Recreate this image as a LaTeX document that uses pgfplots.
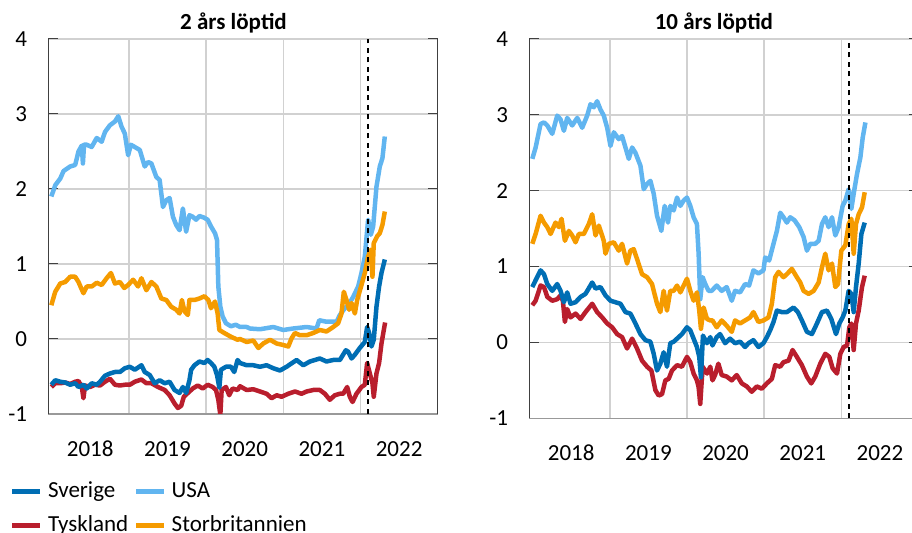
\documentclass[border=0pt]{standalone}
\usepackage{fontspec}
\setmainfont{Carlito}
\usepackage{pgfplots}
\pgfplotsset{compat=1.18}

\definecolor{cSE}{RGB}{0,110,180}
\definecolor{cUS}{RGB}{97,181,240}
\definecolor{cDE}{RGB}{185,30,45}
\definecolor{cUK}{RGB}{245,155,0}

\pgfplotsset{
  ser/.style={line width=4.5bp, line join=round},
  panel/.style={
    scale only axis,
    xmin=2017.957, xmax=2023, ymin=-1, ymax=4,
    axis x line*=bottom, axis y line*=box,
    ytick={-1,0,1,2,3,4}, yticklabels={-1,0,1,2,3,4},
    xtick={2018.5,2019.5,2020.5,2021.5,2022.5},
    xticklabels={2018,2019,2020,2021,2022},
    minor xtick={2019,2020,2021,2022,2023},
    xminorgrids, ymajorgrids,
    grid style={draw=black!18, line width=1.4bp},
    minor grid style={draw=black!18, line width=1.4bp},
    major grid style={draw=black!18, line width=1.4bp},
    tick align=inside,
    major tick length=10bp, minor tick length=0pt,
    xtick style={draw=none},
    ytick style={draw=black!75, line width=1bp},
    y axis line style={draw=black!75, line width=1.2bp},
    x axis line style={draw=black!40, line width=1.2bp},
    yticklabel style={inner sep=0pt, anchor=east, xshift=-21bp},
    xticklabel style={inner sep=0pt, anchor=base, yshift=-42bp},
  },
}

\begin{document}
\fontsize{23bp}{27bp}\selectfont
\begin{tikzpicture}
\path[use as bounding box] (0,0) rectangle (912bp,533bp);

% ---------------- left panel: 2 years ----------------
\begin{axis}[panel,
  at={(48.3bp,119bp)}, anchor=south west,
  width=389.4bp, height=375bp,
  title={2 års löptid},
  every axis title/.style={at={(0.5,1)}, anchor=base, yshift=9.7bp, xshift=-9.5bp, inner sep=0pt, font=\bfseries},
  legend columns=2,
  legend cell align=left,
  legend style={at={(-0.098,-0.179)}, anchor=north west, draw=none, fill=none,
    inner sep=0pt, outer sep=0pt,
    nodes={inner sep=0pt, text height=16bp, text depth=5bp},
    row sep=13bp,
    /tikz/every odd column/.style={column sep=5.4bp},
    /tikz/every even column/.style={column sep=5.5bp}},
  legend image code/.code={\draw[#1, line width=4.5bp] (0bp,0bp) -- (28bp,0bp);},
]
\addlegendimage{cSE}\addlegendentry{Sverige}
\addlegendimage{cUS}\addlegendentry{USA}
\addlegendimage{cDE}\addlegendentry{Tyskland}
\addlegendimage{cUK}\addlegendentry{Storbritannien}

% USA
\addplot[cUS, ser, forget plot] coordinates {
(2017.996,1.90) (2018.047,2.05) (2018.112,2.14) (2018.155,2.24) (2018.240,2.30) (2018.305,2.32) (2018.348,2.50) (2018.391,2.58) (2018.405,2.34) (2018.420,2.59) (2018.455,2.59) (2018.519,2.56) (2018.584,2.68) (2018.648,2.63) (2018.691,2.76) (2018.755,2.85) (2018.820,2.90) (2018.863,2.97) (2018.906,2.83) (2018.948,2.74) (2018.991,2.45) (2019.026,2.59) (2019.077,2.56) (2019.142,2.52) (2019.206,2.30) (2019.249,2.36) (2019.292,2.34) (2019.356,2.16) (2019.399,2.12) (2019.442,1.76) (2019.485,1.85) (2019.528,1.88) (2019.571,1.63) (2019.614,1.52) (2019.657,1.45) (2019.700,1.74) (2019.742,1.43) (2019.785,1.65) (2019.828,1.63) (2019.871,1.59) (2019.914,1.64) (2019.970,1.62) (2020.021,1.59) (2020.064,1.50) (2020.116,1.41) (2020.142,1.32) (2020.159,0.70) (2020.185,0.43) (2020.215,0.30) (2020.258,0.21) (2020.322,0.17) (2020.386,0.19) (2020.440,0.16) (2020.526,0.16) (2020.569,0.14) (2020.698,0.13) (2020.871,0.16) (2021.000,0.12) (2021.129,0.14) (2021.302,0.16) (2021.431,0.14) (2021.466,0.25) (2021.560,0.23) (2021.690,0.23) (2021.733,0.32) (2021.797,0.41) (2021.841,0.45) (2021.905,0.56) (2021.970,0.70) (2022.013,0.88) (2022.056,1.10) (2022.099,1.59) (2022.134,1.39) (2022.164,1.50) (2022.207,2.03) (2022.250,2.30) (2022.284,2.41) (2022.315,2.70)
};
% Tyskland
\addplot[cDE, ser, forget plot] coordinates {
(2017.996,-0.64) (2018.047,-0.59) (2018.112,-0.59) (2018.176,-0.58) (2018.240,-0.60) (2018.305,-0.57) (2018.348,-0.56) (2018.391,-0.64) (2018.412,-0.79) (2018.433,-0.62) (2018.498,-0.64) (2018.562,-0.61) (2018.627,-0.62) (2018.691,-0.57) (2018.755,-0.53) (2018.820,-0.61) (2018.884,-0.62) (2018.948,-0.61) (2019.013,-0.61) (2019.077,-0.57) (2019.163,-0.54) (2019.227,-0.59) (2019.292,-0.59) (2019.378,-0.64) (2019.464,-0.68) (2019.528,-0.75) (2019.592,-0.86) (2019.635,-0.92) (2019.678,-0.89) (2019.712,-0.77) (2019.764,-0.72) (2019.828,-0.66) (2019.893,-0.62) (2019.957,-0.66) (2020.021,-0.61) (2020.086,-0.64) (2020.129,-0.68) (2020.159,-0.81) (2020.185,-1.01) (2020.202,-0.68) (2020.258,-0.64) (2020.300,-0.75) (2020.343,-0.66) (2020.408,-0.68) (2020.440,-0.63) (2020.526,-0.68) (2020.612,-0.67) (2020.698,-0.70) (2020.784,-0.73) (2020.849,-0.79) (2020.914,-0.75) (2020.978,-0.77) (2021.065,-0.73) (2021.151,-0.70) (2021.237,-0.73) (2021.302,-0.70) (2021.388,-0.68) (2021.474,-0.68) (2021.539,-0.73) (2021.603,-0.81) (2021.668,-0.75) (2021.733,-0.73) (2021.776,-0.73) (2021.828,-0.64) (2021.862,-0.77) (2021.897,-0.84) (2021.948,-0.73) (2022.013,-0.64) (2022.056,-0.61) (2022.086,-0.32) (2022.121,-0.46) (2022.155,-0.59) (2022.172,-0.77) (2022.207,-0.46) (2022.241,-0.32) (2022.272,-0.06) (2022.302,0.12) (2022.319,0.22)
};
% Storbritannien
\addplot[cUK, ser, forget plot] coordinates {
(2017.996,0.45) (2018.047,0.63) (2018.112,0.74) (2018.176,0.76) (2018.240,0.83) (2018.305,0.83) (2018.348,0.76) (2018.412,0.61) (2018.455,0.70) (2018.519,0.70) (2018.584,0.75) (2018.648,0.72) (2018.712,0.81) (2018.768,0.88) (2018.820,0.74) (2018.884,0.76) (2018.940,0.68) (2018.991,0.72) (2019.056,0.79) (2019.120,0.70) (2019.163,0.81) (2019.227,0.65) (2019.292,0.76) (2019.356,0.70) (2019.421,0.54) (2019.485,0.52) (2019.549,0.43) (2019.614,0.39) (2019.657,0.34) (2019.687,0.52) (2019.721,0.37) (2019.764,0.32) (2019.785,0.52) (2019.850,0.52) (2019.914,0.54) (2019.979,0.57) (2020.030,0.52) (2020.064,0.41) (2020.116,0.50) (2020.150,0.34) (2020.172,0.12) (2020.236,0.08) (2020.322,0.03) (2020.408,-0.01) (2020.440,0.00) (2020.526,-0.04) (2020.612,-0.02) (2020.677,-0.12) (2020.741,-0.06) (2020.828,-0.01) (2020.914,-0.06) (2021.000,-0.08) (2021.065,-0.10) (2021.108,0.01) (2021.151,0.08) (2021.216,0.05) (2021.302,0.05) (2021.388,0.08) (2021.474,0.12) (2021.560,0.10) (2021.647,0.16) (2021.711,0.21) (2021.754,0.34) (2021.784,0.63) (2021.819,0.52) (2021.853,0.39) (2021.884,0.48) (2021.927,0.34) (2021.957,0.52) (2022.013,0.72) (2022.056,0.88) (2022.099,1.10) (2022.129,1.19) (2022.155,0.83) (2022.172,1.28) (2022.216,1.37) (2022.250,1.41) (2022.284,1.52) (2022.315,1.70)
};
% Sverige
\addplot[cSE, ser, forget plot] coordinates {
(2017.996,-0.61) (2018.047,-0.55) (2018.112,-0.57) (2018.176,-0.58) (2018.240,-0.61) (2018.305,-0.59) (2018.348,-0.64) (2018.412,-0.61) (2018.455,-0.66) (2018.519,-0.59) (2018.584,-0.61) (2018.627,-0.57) (2018.691,-0.49) (2018.755,-0.46) (2018.820,-0.44) (2018.884,-0.44) (2018.948,-0.39) (2019.013,-0.37) (2019.077,-0.41) (2019.163,-0.35) (2019.206,-0.44) (2019.270,-0.48) (2019.335,-0.59) (2019.399,-0.55) (2019.464,-0.59) (2019.528,-0.57) (2019.592,-0.68) (2019.657,-0.72) (2019.700,-0.64) (2019.742,-0.72) (2019.785,-0.55) (2019.807,-0.41) (2019.850,-0.35) (2019.914,-0.30) (2019.979,-0.32) (2020.021,-0.28) (2020.064,-0.32) (2020.107,-0.37) (2020.142,-0.48) (2020.172,-0.65) (2020.193,-0.41) (2020.258,-0.37) (2020.322,-0.37) (2020.365,-0.44) (2020.408,-0.28) (2020.440,-0.32) (2020.526,-0.35) (2020.612,-0.35) (2020.698,-0.37) (2020.784,-0.35) (2020.871,-0.39) (2020.957,-0.42) (2021.043,-0.37) (2021.172,-0.28) (2021.259,-0.35) (2021.345,-0.30) (2021.474,-0.26) (2021.560,-0.30) (2021.647,-0.28) (2021.733,-0.28) (2021.810,-0.15) (2021.841,-0.17) (2021.884,-0.26) (2021.927,-0.21) (2021.991,-0.12) (2022.056,-0.04) (2022.086,0.16) (2022.112,0.08) (2022.142,-0.10) (2022.172,-0.01) (2022.207,0.43) (2022.241,0.70) (2022.272,0.88) (2022.315,1.06)
};
\addplot[black, dashed, line width=2.2bp, dash pattern=on 5bp off 4.5bp, forget plot] coordinates {(2022.10,-1) (2022.10,4)};
\end{axis}

% ---------------- right panel: 10 years ----------------
\begin{axis}[panel,
  at={(529.3bp,114.7bp)}, anchor=south west,
  width=389.2bp, height=379.3bp,
  title={10 års löptid},
  every axis title/.style={at={(0.5,1)}, anchor=base, yshift=9.7bp, xshift=-10bp, inner sep=0pt, font=\bfseries},
]
% USA
\addplot[cUS, ser] coordinates {
(2017.996,2.42) (2018.039,2.57) (2018.103,2.88) (2018.147,2.90) (2018.190,2.86) (2018.254,2.75) (2018.319,2.99) (2018.362,2.94) (2018.405,2.79) (2018.448,2.96) (2018.513,2.86) (2018.578,2.96) (2018.642,2.83) (2018.707,2.99) (2018.750,3.14) (2018.793,3.10) (2018.836,3.18) (2018.879,3.07) (2018.922,2.99) (2018.966,2.83) (2019.009,2.59) (2019.052,2.77) (2019.116,2.68) (2019.159,2.72) (2019.203,2.57) (2019.246,2.42) (2019.289,2.57) (2019.332,2.50) (2019.397,2.33) (2019.440,2.02) (2019.483,2.09) (2019.526,2.13) (2019.569,1.96) (2019.612,1.67) (2019.668,1.47) (2019.711,1.80) (2019.754,1.58) (2019.784,1.80) (2019.828,1.74) (2019.871,1.91) (2019.914,1.80) (2019.957,1.87) (2020.000,1.91) (2020.043,1.80) (2020.086,1.65) (2020.129,1.56) (2020.151,1.17) (2020.172,0.57) (2020.203,0.86) (2020.237,0.77) (2020.280,0.68) (2020.320,0.68) (2020.385,0.75) (2020.450,0.68) (2020.515,0.73) (2020.580,0.55) (2020.623,0.68) (2020.688,0.66) (2020.753,0.77) (2020.805,0.75) (2020.861,0.95) (2020.926,0.91) (2020.991,0.95) (2021.013,1.12) (2021.065,1.08) (2021.108,1.25) (2021.165,1.47) (2021.208,1.71) (2021.251,1.65) (2021.294,1.58) (2021.338,1.65) (2021.394,1.61) (2021.455,1.52) (2021.511,1.39) (2021.554,1.21) (2021.597,1.30) (2021.662,1.30) (2021.706,1.34) (2021.749,1.56) (2021.792,1.65) (2021.835,1.52) (2021.879,1.65) (2021.922,1.41) (2021.965,1.52) (2022.017,1.80) (2022.052,1.87) (2022.095,2.02) (2022.130,1.76) (2022.160,1.96) (2022.203,2.22) (2022.247,2.44) (2022.277,2.70) (2022.312,2.90)
};
% Tyskland
\addplot[cDE, ser] coordinates {
(2017.996,0.49) (2018.039,0.55) (2018.103,0.75) (2018.147,0.73) (2018.190,0.60) (2018.254,0.55) (2018.319,0.57) (2018.362,0.62) (2018.392,0.55) (2018.418,0.27) (2018.448,0.44) (2018.491,0.33) (2018.556,0.38) (2018.621,0.31) (2018.685,0.40) (2018.772,0.51) (2018.836,0.40) (2018.901,0.33) (2018.966,0.25) (2019.030,0.20) (2019.095,0.11) (2019.159,0.07) (2019.224,-0.08) (2019.289,0.05) (2019.353,-0.08) (2019.418,-0.24) (2019.483,-0.32) (2019.539,-0.37) (2019.591,-0.63) (2019.634,-0.70) (2019.677,-0.68) (2019.720,-0.50) (2019.763,-0.48) (2019.806,-0.37) (2019.871,-0.30) (2019.935,-0.32) (2020.000,-0.19) (2020.043,-0.26) (2020.086,-0.41) (2020.129,-0.50) (2020.151,-0.59) (2020.172,-0.81) (2020.203,-0.32) (2020.259,-0.41) (2020.302,-0.32) (2020.330,-0.50) (2020.364,-0.43) (2020.407,-0.28) (2020.450,-0.43) (2020.515,-0.45) (2020.580,-0.50) (2020.645,-0.43) (2020.710,-0.54) (2020.775,-0.58) (2020.840,-0.65) (2020.905,-0.58) (2020.970,-0.61) (2021.035,-0.54) (2021.100,-0.48) (2021.143,-0.30) (2021.208,-0.32) (2021.251,-0.26) (2021.316,-0.24) (2021.368,-0.10) (2021.424,-0.19) (2021.489,-0.30) (2021.554,-0.45) (2021.610,-0.54) (2021.662,-0.45) (2021.727,-0.28) (2021.792,-0.15) (2021.844,-0.19) (2021.887,-0.34) (2021.944,-0.41) (2021.987,-0.15) (2022.030,-0.06) (2022.074,-0.04) (2022.104,0.20) (2022.130,0.25) (2022.160,-0.10) (2022.190,0.25) (2022.225,0.42) (2022.268,0.73) (2022.303,0.88)
};
% Storbritannien
\addplot[cUK, ser] coordinates {
(2017.996,1.30) (2018.039,1.43) (2018.103,1.67) (2018.147,1.58) (2018.190,1.52) (2018.233,1.43) (2018.297,1.58) (2018.341,1.52) (2018.375,1.63) (2018.418,1.34) (2018.470,1.47) (2018.513,1.41) (2018.556,1.32) (2018.599,1.43) (2018.664,1.43) (2018.728,1.56) (2018.772,1.69) (2018.815,1.41) (2018.858,1.54) (2018.922,1.34) (2018.944,1.17) (2018.987,1.30) (2019.052,1.32) (2019.116,1.21) (2019.159,1.30) (2019.224,1.04) (2019.267,1.21) (2019.310,1.23) (2019.353,1.10) (2019.418,0.90) (2019.483,0.86) (2019.547,0.77) (2019.612,0.51) (2019.655,0.40) (2019.698,0.68) (2019.741,0.42) (2019.784,0.68) (2019.828,0.68) (2019.871,0.75) (2019.914,0.66) (2019.957,0.75) (2020.000,0.84) (2020.043,0.68) (2020.086,0.55) (2020.129,0.66) (2020.159,0.42) (2020.181,0.18) (2020.216,0.46) (2020.259,0.31) (2020.302,0.29) (2020.330,0.29) (2020.385,0.20) (2020.450,0.29) (2020.515,0.22) (2020.580,0.14) (2020.623,0.29) (2020.688,0.25) (2020.753,0.29) (2020.818,0.33) (2020.861,0.40) (2020.926,0.27) (2020.991,0.29) (2021.056,0.33) (2021.100,0.51) (2021.143,0.86) (2021.186,0.93) (2021.251,0.86) (2021.294,0.90) (2021.359,0.97) (2021.424,0.86) (2021.468,0.79) (2021.511,0.68) (2021.576,0.64) (2021.641,0.68) (2021.706,0.79) (2021.749,0.99) (2021.792,1.17) (2021.835,0.95) (2021.879,1.04) (2021.922,0.73) (2021.957,0.77) (2022.000,1.21) (2022.052,1.28) (2022.095,1.56) (2022.130,1.63) (2022.160,1.17) (2022.190,1.56) (2022.225,1.69) (2022.268,1.78) (2022.303,1.98)
};
% Sverige
\addplot[cSE, ser] coordinates {
(2017.996,0.73) (2018.039,0.82) (2018.103,0.95) (2018.147,0.90) (2018.190,0.77) (2018.254,0.68) (2018.319,0.77) (2018.362,0.68) (2018.405,0.53) (2018.448,0.66) (2018.491,0.51) (2018.556,0.53) (2018.621,0.60) (2018.685,0.64) (2018.772,0.79) (2018.815,0.71) (2018.879,0.73) (2018.944,0.62) (2019.009,0.55) (2019.073,0.53) (2019.138,0.51) (2019.203,0.40) (2019.267,0.38) (2019.332,0.25) (2019.397,0.11) (2019.461,0.03) (2019.526,0.01) (2019.569,-0.15) (2019.612,-0.37) (2019.655,-0.28) (2019.698,-0.13) (2019.741,-0.32) (2019.784,-0.01) (2019.828,0.01) (2019.871,0.05) (2019.935,0.11) (2020.000,0.20) (2020.043,0.16) (2020.086,0.05) (2020.129,-0.06) (2020.159,-0.19) (2020.181,-0.46) (2020.207,0.09) (2020.259,-0.01) (2020.302,0.07) (2020.330,-0.04) (2020.385,0.07) (2020.429,0.11) (2020.494,-0.01) (2020.558,0.05) (2020.623,-0.01) (2020.688,0.01) (2020.753,-0.06) (2020.797,-0.01) (2020.861,0.03) (2020.926,-0.06) (2020.991,-0.01) (2021.035,0.07) (2021.078,0.16) (2021.121,0.27) (2021.165,0.42) (2021.229,0.40) (2021.294,0.40) (2021.381,0.46) (2021.437,0.40) (2021.489,0.29) (2021.554,0.14) (2021.619,0.11) (2021.684,0.25) (2021.749,0.40) (2021.814,0.42) (2021.870,0.31) (2021.931,0.11) (2021.974,0.25) (2022.017,0.33) (2022.052,0.42) (2022.095,0.68) (2022.130,0.64) (2022.160,0.40) (2022.190,0.73) (2022.225,1.04) (2022.260,1.43) (2022.303,1.58)
};
\addplot[black, dashed, line width=2.2bp, dash pattern=on 5bp off 4.5bp] coordinates {(2022.10,-1) (2022.10,4)};
\end{axis}
\end{tikzpicture}
\end{document}
